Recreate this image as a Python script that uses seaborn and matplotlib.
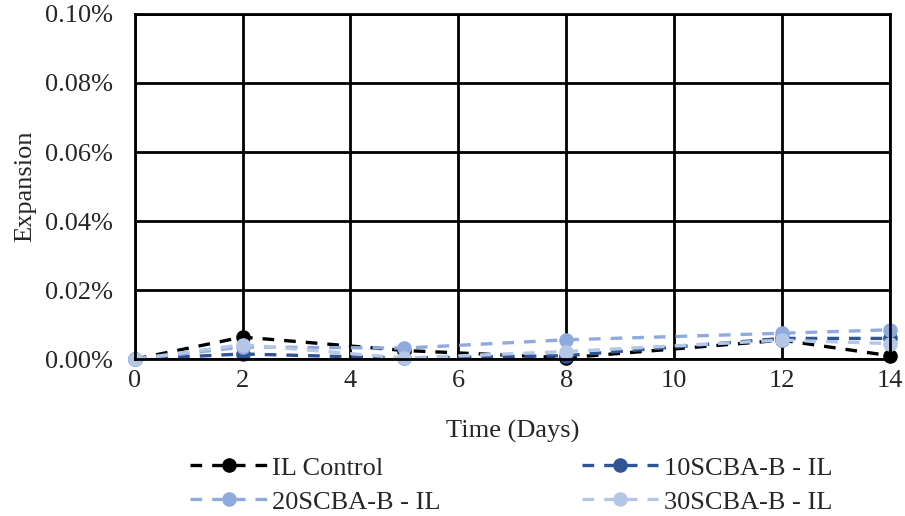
import numpy as np
import pandas as pd
import matplotlib
matplotlib.use('Agg')
import matplotlib.pyplot as plt
from matplotlib.ticker import FuncFormatter
import seaborn as sns

# Data (expansion in %)
days = [0, 2, 5, 8, 12, 14]
il_control = [0.0, 0.0064, 0.0025, 0.0004, 0.0055, 0.0010]
scba10 = [0.0, 0.0015, 0.0003, 0.0010, 0.0060, 0.0060]
scba20 = [0.0, 0.0035, 0.0032, 0.0056, 0.0075, 0.0085]
scba30 = [0.0, 0.0042, 0.0003, 0.0022, 0.0055, 0.0045]

series_names = ['IL Control', '10SCBA-B - IL', '20SCBA-B - IL', '30SCBA-B - IL']
series_values = [il_control, scba10, scba20, scba30]
colors = ['#000000', '#2F5597', '#8FAADC', '#B4C7E7']

sns.set_style('white')
plt.rcParams['font.family'] = ['Liberation Serif', 'DejaVu Serif']

fig = plt.figure(figsize=(9.05, 5.16), dpi=100)
ax = fig.add_axes([0.149, 0.304, 0.834, 0.669])

for name, vals, col in zip(series_names, series_values, colors):
    df = pd.DataFrame({'day': days, 'exp': vals})
    sns.lineplot(data=df, x='day', y='exp', ax=ax, color=col, label=name,
                 marker='o', markersize=10.5, markeredgewidth=0,
                 linewidth=2.4, linestyle=(0, (3.5, 3)), clip_on=False)

ax.set_xlim(0, 14)
ax.set_ylim(0, 0.1)
ax.set_xticks(np.arange(0, 15, 2))
ax.set_yticks(np.arange(0, 0.101, 0.02))
ax.yaxis.set_major_formatter(FuncFormatter(lambda v, p: f'{v:.2f}%'))
ax.grid(True, color='black', linewidth=2)
for s in ax.spines.values():
    s.set_color('black')
    s.set_linewidth(2)
ax.tick_params(labelsize=19, length=0)
ax.tick_params(axis='y', pad=16)
ax.tick_params(axis='x', pad=8)
ax.set_xlabel('Time (Days)', fontsize=19, labelpad=20)
ax.set_ylabel('Expansion', fontsize=19, labelpad=6)

ax.legend_.remove()
handles, labels = ax.get_legend_handles_labels()
order = [0, 2, 1, 3]  # row-wise filling like the original
fig.legend([handles[i] for i in order], [labels[i] for i in order],
           loc='upper center', bbox_to_anchor=(0.565, 0.162),
           ncol=2, frameon=False, fontsize=19, handlelength=2.9,
           columnspacing=5.35, handletextpad=0.2, labelspacing=0.4)

fig.savefig('out.png', dpi=100)
